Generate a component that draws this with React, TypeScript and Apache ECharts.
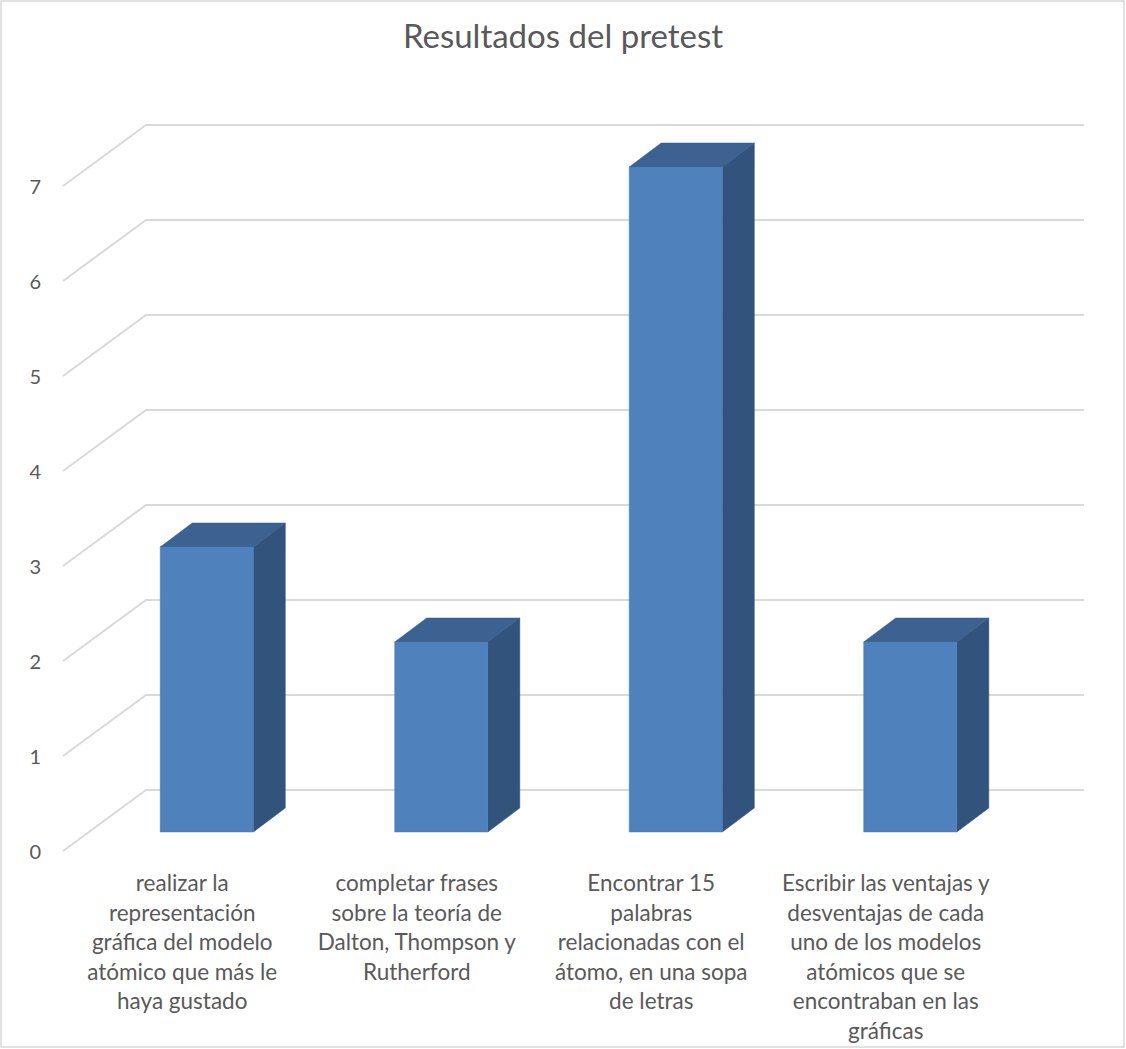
import React, { useEffect, useRef } from "react";
import * as echarts from "echarts";

const title = "Resultados del pretest";
const categories = [
  "realizar la\nrepresentación\ngráfica del modelo\natómico que más le\nhaya gustado",
  "completar frases\nsobre la teoría de\nDalton, Thompson y\nRutherford",
  "Encontrar 15\npalabras\nrelacionadas con el\nátomo, en una sopa\nde letras",
  "Escribir las ventajas y\ndesventajas de cada\nuno de los modelos\natómicos que se\nencontraban en las\ngráficas",
];
const values = [3, 2, 7, 2];
const yTicks = [0, 1, 2, 3, 4, 5, 6, 7];

const FONT = "Lato, 'Open Sans', sans-serif";
const TEXT = "#595959";
const GRID = "#d9d9d9";
// 3D projection (pixels)
const WALL_DX = 81;
const WALL_DY = -61;
const BAR_SHIFT_X = 24.5;
const BAR_SHIFT_Y = -19;
const DEPTH_DX = 32;
const DEPTH_DY = -24;
const BAR_FRAC = 0.397;

export default function App() {
  const ref = useRef<HTMLDivElement>(null);
  useEffect(() => {
    if (!ref.current) return;
    const chart = echarts.init(ref.current, null, { renderer: "svg" });
    chart.setOption({
      animation: false,
      backgroundColor: "#fff",
      textStyle: { fontFamily: FONT },
      title: {
        text: title,
        left: "center",
        top: 13,
        textStyle: { fontFamily: FONT, fontSize: 33, fontWeight: "normal", color: TEXT },
      },
      graphic: [
        {
          type: "rect",
          shape: { x: 1, y: 1, width: 1123, height: 1046 },
          style: { fill: "none", stroke: GRID, lineWidth: 1.5 },
          silent: true,
        },
      ],
      grid: { left: 65, right: 123, top: 186, bottom: 198, containLabel: false },
      xAxis: {
        type: "category",
        data: categories,
        boundaryGap: true,
        axisLine: { show: false },
        axisTick: { show: false },
        splitLine: { show: false },
        axisLabel: {
          interval: 0,
          margin: 17,
          fontSize: 22.5,
          lineHeight: 29.5,
          color: TEXT,
          fontFamily: FONT,
          align: "center",
        },
      },
      yAxis: {
        type: "value",
        min: 0,
        max: 7,
        interval: 1,
        axisLine: { show: false },
        axisTick: { show: false },
        splitLine: { show: false },
        axisLabel: { margin: 24, fontSize: 20, color: TEXT, fontFamily: FONT },
      },
      series: [
        {
          type: "custom",
          silent: true,
          z: 1,
          data: yTicks.map((t) => [0, t]),
          renderItem: (params: any, api: any) => {
            const cs = params.coordSys;
            const y = api.coord([0, api.value(1)])[1];
            const x0 = cs.x;
            const x1 = cs.x + cs.width;
            return {
              type: "polyline",
              shape: {
                points: [
                  [x0 - 2, y],
                  [x0 + WALL_DX, y + WALL_DY],
                  [x1 + WALL_DX, y + WALL_DY],
                ],
              },
              style: { fill: "none", stroke: GRID, lineWidth: 2 },
            };
          },
        },
        {
          type: "custom",
          z: 2,
          data: values.map((v, i) => [i, v]),
          renderItem: (params: any, api: any) => {
            const idx = api.value(0);
            const v = api.value(1);
            const top = api.coord([idx, v]);
            const base = api.coord([idx, 0]);
            const w = api.size([1, 0])[0] * BAR_FRAC;
            const fx0 = top[0] - w / 2 + BAR_SHIFT_X;
            const fx1 = fx0 + w;
            const ty = top[1] + BAR_SHIFT_Y;
            const by = base[1] + BAR_SHIFT_Y;
            return {
              type: "group",
              children: [
                {
                  type: "polygon",
                  shape: {
                    points: [
                      [fx1, ty],
                      [fx1 + DEPTH_DX, ty + DEPTH_DY],
                      [fx1 + DEPTH_DX, by + DEPTH_DY],
                      [fx1, by],
                    ],
                  },
                  style: { fill: "#32537c", stroke: "#2d4b70", lineWidth: 0.5 },
                },
                {
                  type: "polygon",
                  shape: {
                    points: [
                      [fx0, ty],
                      [fx1, ty],
                      [fx1 + DEPTH_DX, ty + DEPTH_DY],
                      [fx0 + DEPTH_DX, ty + DEPTH_DY],
                    ],
                  },
                  style: { fill: "#3b6290", stroke: "#36598a", lineWidth: 0.5 },
                },
                {
                  type: "rect",
                  shape: { x: fx0, y: ty, width: w, height: by - ty },
                  style: { fill: "#4f81bd", stroke: "#4a7ab5", lineWidth: 0.5 },
                },
              ],
            };
          },
        },
      ],
    });
    return () => chart.dispose();
  }, []);
  return (
    <div
      ref={ref}
      style={{ position: "absolute", left: 0, top: 0, width: 1126, height: 1049 }}
    />
  );
}
